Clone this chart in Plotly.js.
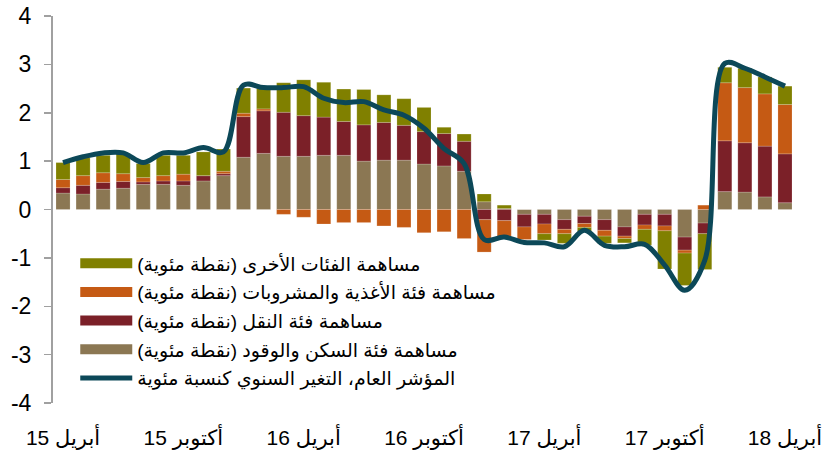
<!DOCTYPE html>
<html>
<head>
<meta charset="utf-8">
<script src="https://cdn.plot.ly/plotly-3.0.1.min.js"></script>
<style>
  html, body { margin: 0; padding: 0; background: #fff; }
  #chart { width: 827px; height: 450px; }
</style>
</head>
<body>
<div id="chart"></div>
<script>
// months from April 2015 to April 2018 (index 0..36)
const monthIdx = Array.from({ length: 37 }, (_, i) => i);
const tickIdx = [0, 6, 12, 18, 24, 30, 36];
const tickLabels = ['أبريل 15', 'أكتوبر 15', 'أبريل 16', 'أكتوبر 16', 'أبريل 17', 'أكتوبر 17', 'أبريل 18'];
const yTicks = [-4, -3, -2, -1, 0, 1, 2, 3, 4];

const housing = [0.34, 0.32, 0.42, 0.44, 0.52, 0.52, 0.50, 0.59, 0.70, 1.08, 1.16, 1.10, 1.10, 1.12, 1.12, 1.00, 1.02, 1.02, 0.94, 0.90, 0.79,
  0.16, 0.02, -0.10, -0.10, -0.21, -0.14, -0.21, -0.36, -0.10, -0.10, -0.57, -0.28, 0.37, 0.36, 0.26, 0.14];
const transport = [0.11, 0.18, 0.14, 0.14, 0.05, 0.07, 0.09, 0.11, 0.04, 0.84, 0.88, 0.91, 0.84, 0.79, 0.70, 0.75, 0.78, 0.72, 0.67, 0.67, 0.62,
  -0.21, -0.23, -0.26, -0.20, -0.20, -0.15, -0.22, -0.19, -0.22, -0.24, -0.27, -0.22, 1.05, 1.02, 1.05, 1.01];
const food = [0.17, 0.20, 0.20, 0.16, 0.09, 0.11, 0.14, 0, 0.05, 0.07, 0.04, -0.10, -0.16, -0.30, -0.27, -0.27, -0.34, -0.37, -0.48, -0.46, -0.60,
  -0.67, -0.38, -0.26, -0.20, -0.09, -0.08, -0.12, -0.05, -0.09, -0.10, -0.06, 0.09, 1.20, 1.14, 1.08, 1.02];
const others = [0.35, 0.37, 0.36, 0.42, 0.29, 0.42, 0.39, 0.49, 0.46, 0.52, 0.42, 0.61, 0.74, 0.72, 0.67, 0.73, 0.57, 0.55, 0.50, 0.13, 0.15,
  0.16, 0.07, 0, -0.13, -0.20, -0.09, -0.15, -0.09, -0.33, -0.79, -0.67, -0.74, 0.32, 0.40, 0.35, 0.38];
const headline = [0.97, 1.09, 1.17, 1.17, 0.97, 1.17, 1.17, 1.28, 1.19, 2.57, 2.52, 2.52, 2.54, 2.30, 2.21, 2.23, 2.06, 1.95, 1.68, 1.26, 0.95,
  -0.62, -0.57, -0.68, -0.69, -0.77, -0.43, -0.74, -0.77, -0.72, -1.15, -1.67, -1.05, 3.02, 2.92, 2.74, 2.55];

const RLM = '\u200F';
const names = {
  others: 'مساهمة الفئات الأخرى (نقطة مئوية)' + RLM,
  food: 'مساهمة فئة الأغذية والمشروبات (نقطة مئوية)' + RLM,
  transport: 'مساهمة فئة النقل (نقطة مئوية)' + RLM,
  housing: 'مساهمة فئة السكن والوقود (نقطة مئوية)' + RLM,
  headline: 'المؤشر العام، التغير السنوي كنسبة مئوية',
};
const colors = { housing: '#8b7753', transport: '#7b2028', food: '#c55a14', others: '#808000', headline: '#0c4858' };
const axisGray = '#a0a0a0';
const fontFamily = 'Arial, "Liberation Sans", "DejaVu Sans", sans-serif';

const barTrace = (key, values) => ({
  type: 'bar', x: monthIdx, y: values, name: names[key], showlegend: false,
  marker: { color: colors[key], line: { color: 'rgba(255,255,255,0.35)', width: 0.5 } },
  hoverinfo: 'y',
});
// wide swatches for the legend (bars only get a small square)
const swatch = key => ({
  type: 'scatter', mode: 'lines', x: [null], y: [null], name: names[key], legendgroup: key,
  line: { color: colors[key], width: 14 }, hoverinfo: 'skip',
});

const traces = [
  barTrace('housing', housing),
  barTrace('transport', transport),
  barTrace('food', food),
  barTrace('others', others),
  swatch('others'),
  swatch('food'),
  swatch('transport'),
  swatch('housing'),
  {
    type: 'scatter', mode: 'lines', x: monthIdx, y: headline, name: names.headline, legendgroup: 'headline',
    line: { color: colors.headline, width: 5, shape: 'spline', smoothing: 1 },
  },
];

const layout = {
  width: 827,
  height: 450,
  margin: { t: 16, b: 47, l: 53, r: 32 },
  paper_bgcolor: '#fff',
  plot_bgcolor: '#fff',
  font: { family: fontFamily, size: 17, color: '#000' },
  barmode: 'relative',
  bargap: 0.3,
  showlegend: true,
  legend: {
    x: 0.03, y: 0.41, xanchor: 'left', yanchor: 'top',
    traceorder: 'grouped', tracegroupgap: 1, itemwidth: 52,
    bgcolor: 'rgba(0,0,0,0)', font: { size: 19, color: '#000' },
  },
  xaxis: {
    range: [-0.5, 36.5],
    tickvals: tickIdx, ticktext: tickLabels,
    ticks: '', showline: false, showgrid: false, zeroline: false,
    tickfont: { size: 21 }, ticklabelstandoff: 20,
    fixedrange: true,
  },
  // zero line with boundary tick marks
  xaxis2: {
    overlaying: 'x', anchor: 'free', position: 0.5, side: 'bottom',
    range: [-0.5, 36.5],
    tickvals: [-0.5, 5.5, 11.5, 17.5, 23.5, 29.5, 35.5],
    ticks: 'outside', ticklen: 8, tickwidth: 1.5, tickcolor: axisGray,
    showticklabels: false, showline: true, linecolor: axisGray, linewidth: 2,
    showgrid: false, zeroline: false,
  },
  yaxis: {
    range: [-4, 4],
    tickvals: yTicks, ticktext: yTicks.map(String),
    ticks: 'outside', ticklen: 7, tickwidth: 1.5, tickcolor: axisGray,
    showline: true, linecolor: axisGray, linewidth: 2,
    showgrid: false, zeroline: false,
    tickfont: { size: 23 }, ticklabelstandoff: 8,
    fixedrange: true,
  },
};

Plotly.newPlot('chart', traces, layout, { displayModeBar: false, staticPlot: true }).then(gd => {
  // stretch the legend swatches to the item width
  gd.querySelectorAll('.legend .legendlines path').forEach(p => p.setAttribute('d', 'M5,0h52'));
});
</script>
</body>
</html>
